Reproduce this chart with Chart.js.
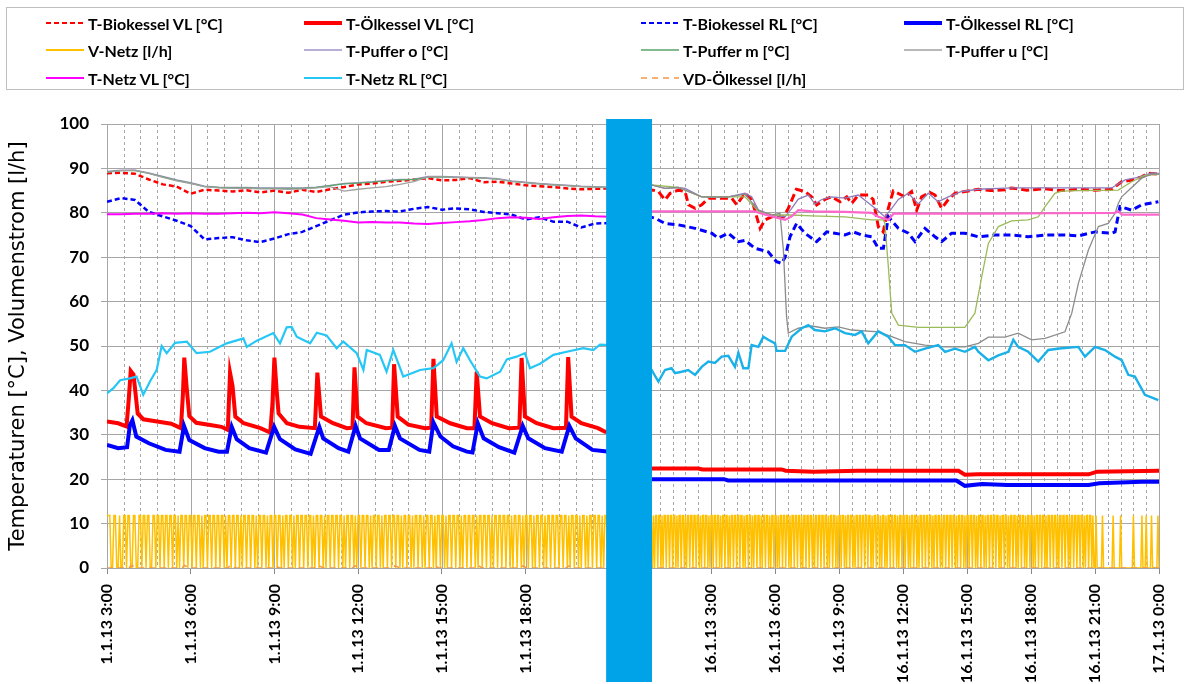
<!DOCTYPE html>
<html>
<head>
<meta charset="utf-8">
<script src="https://cdn.jsdelivr.net/npm/chart.js@4.4.1/dist/chart.umd.min.js"></script>
<style>
body{margin:0;background:#fff;}
#wrap{position:relative;width:1190px;height:684px;overflow:hidden;}
#chart{position:absolute;left:0;top:0;}
#legend{position:absolute;left:6px;top:7px;width:1178px;height:83px;border:1px solid #bfbfbf;box-sizing:border-box;font:bold 16px Lato,sans-serif;color:#000;}
.item{position:absolute;display:flex;align-items:center;white-space:nowrap;height:20px;}
.item span{margin-left:4px;}
</style>
</head>
<body>
<div id="wrap">
<canvas id="chart" width="1190" height="684"></canvas>
<div id="legend"></div>
</div>
<script>
// 1.1.13: half-hourly readings, hours of the day
const hoursJan1 = [3,3.5,4,4.5,5,5.5,6,6.5,7,7.5,8,8.5,9,9.5,10,10.5,11,11.5,12,12.5,13,13.5,14,14.5,15,15.5,16,16.5,17,17.5,18,18.5,19,19.5,20,20.5,21];
const bioVL1 = [88.9,89.0,88.8,87.5,86.4,85.9,84.3,85.2,85.0,84.8,85.1,84.6,85.0,84.5,85.2,84.7,85.3,85.8,86.4,86.6,87.0,87.2,87.5,87.8,87.3,87.4,87.8,86.9,87.0,86.6,86.2,86.0,85.8,85.5,85.3,85.4,85.5];
const bioRL1 = [82.5,83.3,82.9,80.2,79.2,78.2,77.0,74.0,74.3,74.5,73.8,73.4,74.2,75.2,75.7,77.0,78.3,79.6,80.1,80.3,80.4,80.3,80.9,81.3,80.7,81.0,80.8,80.2,79.9,79.6,78.5,79.0,78.0,78.0,76.7,77.6,77.7];
const pufferO1 = [89.3,89.6,89.6,89.0,88.2,87.4,86.8,86.0,85.8,85.7,85.7,85.6,85.6,85.6,85.6,85.8,86.2,86.6,86.8,87.0,87.3,87.5,87.6,88.2,88.2,88.1,88.0,87.9,87.7,87.2,86.9,86.6,86.4,86.2,86.0,85.9,85.8];
const pufferM1 = [89.2,89.5,89.5,88.9,88.1,87.3,86.7,85.9,85.7,85.6,85.6,85.5,85.5,85.5,85.5,85.7,86.1,86.5,86.7,86.9,87.2,87.4,87.5,88.0,88.1,88.0,87.9,87.8,87.6,87.1,86.8,86.5,86.3,86.1,85.9,85.8,85.7];
const pufferU1 = [89.1,89.5,89.6,88.9,88.0,87.2,86.6,85.9,85.6,85.5,85.5,85.4,85.4,85.3,85.4,85.6,85.9,84.9,85.3,85.6,85.9,86.4,87.0,88.1,88.1,88.0,87.9,87.8,87.6,87.1,86.8,86.5,86.3,86.1,85.9,85.8,85.7];
const netzVL1 = [79.7,79.7,79.8,79.8,79.9,79.8,79.9,79.8,79.8,79.9,80.0,79.9,80.1,79.9,79.6,78.8,78.5,78.2,77.8,77.9,77.8,77.8,77.6,77.5,77.7,77.9,78.1,78.4,78.8,79.0,78.9,78.6,79.0,79.3,79.4,79.2,79.1];
// 1.1.13: [hour, value]
const oelVL1 = [[3,33],[3.4,32.6],[3.7,31.9],[3.78,38],[3.85,44.4],[3.95,43.6],[4.1,34.8],[4.3,33.5],[4.8,33],[5.3,32.5],[5.65,31.5],[5.72,39],[5.77,47.4],[5.85,41],[5.95,34.2],[6.2,32.7],[6.7,32.2],[7.1,31.8],[7.33,31.1],[7.41,44],[7.5,41],[7.6,34.1],[7.9,32.6],[8.5,31.5],[8.85,30.5],[8.93,37],[9.0,47.4],[9.08,40],[9.15,34.8],[9.45,32.6],[9.9,31.8],[10.45,31.5],[10.54,44],[10.67,34.1],[11.1,32.6],[11.6,31.5],[11.8,31.6],[11.87,45.2],[11.98,34.1],[12.3,32.6],[13.0,31.5],[13.22,31.6],[13.29,45.9],[13.42,34.1],[13.8,32.3],[14.4,31.5],[14.62,31.6],[14.7,47.1],[14.82,34.1],[15.3,32.6],[15.9,31.5],[16.17,31.5],[16.25,44.2],[16.37,34.1],[16.8,32.6],[17.4,31.5],[17.78,31.6],[17.86,47.3],[17.98,34.1],[18.4,32.6],[19.0,31.5],[19.45,31.6],[19.53,47.5],[19.65,34.1],[20.0,32.6],[20.6,31.5],[20.85,30.7],[21,30.7]];
const oelRL1 = [[3,27.7],[3.4,27.0],[3.72,27.2],[3.82,32.2],[3.91,33.3],[4.05,29.6],[4.5,28.1],[5.1,26.6],[5.6,26.2],[5.76,32],[5.95,28.8],[6.5,27],[7.0,26.2],[7.3,26.2],[7.47,31.8],[7.65,29],[8.1,27],[8.7,26.0],[8.99,31.8],[9.2,29],[9.75,26.7],[10.3,25.7],[10.61,31.8],[10.75,29.2],[11.3,27],[11.65,26.2],[11.91,32],[12.07,29.2],[12.75,26.6],[13.1,26.6],[13.32,32],[13.5,29.2],[14.2,26.6],[14.55,26.2],[14.7,32.8],[14.95,29.6],[15.4,27.4],[15.9,26.2],[16.1,26.0],[16.29,32.6],[16.5,29.2],[17.05,27.2],[17.6,26.0],[17.9,32.0],[18.1,29.2],[18.7,27.0],[19.3,26.2],[19.57,32],[19.8,29.2],[20.4,26.6],[21,26.2]];
const netzRL1 = [[3.0,39.3],[3.23,40.5],[3.47,42.3],[3.82,42.7],[4.06,43.1],[4.3,39.0],[4.54,42.0],[4.78,44.6],[4.96,50.0],[5.14,48.4],[5.44,50.7],[5.86,51.0],[6.21,48.4],[6.69,48.7],[7.29,50.6],[7.89,51.7],[8.01,49.8],[8.37,51.2],[8.96,52.9],[9.2,50.6],[9.44,54.2],[9.62,54.3],[9.8,52.1],[10.28,50.6],[10.52,53.0],[10.87,52.4],[11.23,49.5],[11.47,51.0],[11.95,48.4],[12.19,44.6],[12.31,49.1],[12.78,48.0],[13.02,44.2],[13.26,49.1],[13.62,43.1],[14.22,44.6],[14.7,45.0],[15.05,46.8],[15.35,50.6],[15.53,46.4],[15.77,49.5],[16.01,46.8],[16.37,43.1],[16.61,42.7],[17.09,44.2],[17.33,47.0],[17.68,47.6],[17.98,48.4],[18.16,45.0],[18.52,46.0],[19.0,48.0],[19.48,48.7],[20.07,49.5],[20.43,49.1],[20.67,50.3],[21.03,50.2]];
const vdOel1 = [[3,0],[3.78,0],[3.88,0.6],[4.05,0],[5.68,0],[5.78,0.6],[5.95,0],[7.33,0],[7.43,0.6],[7.6,0],[8.92,0],[9.02,0.5],[9.2,0],[10.48,0],[10.58,0.6],[10.75,0],[11.8,0],[11.9,0.5],[12.05,0],[13.22,0],[13.32,0.5],[13.5,0],[14.62,0],[14.72,0.5],[14.9,0],[16.18,0],[16.28,0.6],[16.45,0],[17.8,0],[17.9,0.5],[18.05,0],[19.46,0],[19.56,0.5],[19.72,0],[21,0]];
// V-Netz on/off every 3 minutes (1 = flow, 0 = off), from 3:00
const vNetzOn = 11.8;
const vNetz1 =
  '11100110010011011001' + '10011011011001101101' + '10110110110101101101' + '10110110101101101101' +
  '10110101101101101011' + '01101101011011010110' + '11011010110110101101' + '10110110101101101011' +
  '01101101101011011010' + '11011011010110110101' + '10110110110101101101' + '01101101011011010110' +
  '11010110110110101101' + '10110101101101101011' + '01101101101011011010' + '11011010110110101101' +
  '10110110110101101101' + '01101011011011010110' + '1';

// 16.1.13: [hour, value]
const bioVL16 = [[0,85.3],[0.27,85.1],[0.53,84.8],[0.84,82.9],[1.08,84.4],[1.47,85.1],[1.78,84.8],[1.94,81.8],[2.25,81.0],[2.56,81.8],[2.88,83.3],[3.97,83.3],[4.2,81.8],[4.59,84.4],[4.91,83.0],[5.14,79.1],[5.3,76.5],[5.53,78.4],[5.84,79.1],[6.39,79.0],[6.62,81.0],[7.0,85.3],[7.4,84.8],[7.71,83.6],[7.95,81.8],[8.34,83.0],[8.65,83.6],[9.05,82.5],[9.36,83.6],[9.59,82.1],[9.9,84.0],[10.37,84.0],[10.6,83.0],[10.84,76.9],[11.07,75.7],[11.31,81.0],[11.54,84.9],[12.09,83.6],[12.4,84.8],[12.64,80.6],[12.87,83.6],[13.26,84.6],[13.5,84.0],[13.81,81.0],[14.12,83.0],[14.44,84.4],[14.91,84.8],[15.53,85.3],[16.1,85.0],[16.78,85.2],[17.09,85.6],[17.8,85.1],[18.66,85.4],[19.4,85.0],[20.22,85.3],[21.0,85.1],[21.78,85.3],[22.25,87.0],[22.72,87.4],[23.19,88.1],[23.5,88.9],[24,88.7]];
const oelVL16 = [[0,22.4],[2.4,22.4],[2.6,22.2],[6.3,22.2],[6.5,21.9],[7.8,21.7],[9.9,21.9],[14.6,21.9],[14.9,21.0],[15.5,21.1],[20.7,21.1],[21.1,21.7],[24,21.9]];
const bioRL16 = [[0,79.2],[0.37,78.8],[0.84,77.6],[1.46,77.3],[2.25,76.5],[3.03,75.4],[3.34,74.3],[3.81,75.4],[4.28,73.5],[4.59,73.8],[5.06,72.0],[5.68,71.2],[6.07,69.0],[6.31,68.6],[6.47,70.0],[6.7,74.6],[7.01,77.6],[7.4,75.4],[7.95,73.5],[8.42,75.7],[8.81,75.4],[9.28,75.0],[9.67,75.7],[10.06,75.0],[10.53,74.6],[10.84,72.0],[11.08,72.0],[11.31,79.1],[11.78,76.5],[12.25,75.4],[12.56,73.5],[13.03,76.5],[13.5,74.6],[13.81,73.5],[14.28,75.4],[14.9,75.4],[15.53,74.6],[16.31,75.0],[17.09,75.0],[17.87,74.6],[18.66,75.0],[19.59,75.0],[20.22,74.8],[21.0,75.7],[21.78,75.4],[21.94,75.7],[22.17,81.4],[22.72,80.6],[23.19,81.8],[23.97,82.5]];
const oelRL16 = [[0,20.0],[3.6,20.0],[3.8,19.7],[14.5,19.7],[14.9,18.5],[15.7,18.9],[16.9,18.7],[20.7,18.7],[21.2,19.1],[23.2,19.4],[24,19.4]];
const pufferO16 = [[0,86.4],[0.2,86.3],[0.84,85.5],[1.46,85.7],[1.78,85.5],[2.56,83.6],[3.03,83.5],[3.81,83.6],[4.59,84.4],[4.9,83.6],[5.22,80.6],[5.84,79.5],[6.47,79.1],[6.78,81.0],[7.09,83.1],[7.56,84.0],[7.87,82.0],[8.19,83.0],[8.65,83.6],[9.28,83.3],[9.9,84.0],[10.69,81.0],[11.15,79.1],[11.47,81.0],[11.78,83.0],[12.25,84.4],[12.72,82.0],[13.18,84.4],[13.65,82.5],[14.12,83.6],[14.75,84.8],[15.53,85.3],[17.09,85.6],[21.78,85.6],[22.41,87.4],[23.03,88.0],[23.66,89.0],[24,88.9]];
const pufferM16 = [[0,86.4],[0.2,86.3],[1.46,85.7],[2.56,83.6],[4.59,83.6],[5.22,80.3],[6.0,79.5],[6.78,79.5],[7.72,79.3],[9.28,79.1],[10.53,78.4],[11.08,78.4],[11.15,77.6],[11.31,67.9],[11.47,57.4],[11.78,54.7],[12.72,54.2],[14.9,54.2],[15.37,57.4],[15.69,65.6],[16.0,73.1],[16.47,76.9],[17.09,78.2],[17.87,78.4],[18.34,79.1],[18.66,81.4],[19.12,84.4],[19.44,84.9],[20.22,85.0],[22.09,85.1],[22.72,87.0],[23.34,88.4],[24,88.7]];
const pufferU16 = [[0,86.4],[0.2,86.3],[0.84,85.5],[1.46,85.7],[2.56,83.6],[3.81,83.6],[4.59,84.2],[5.22,80.6],[5.84,79.5],[6.23,79.9],[6.39,71.6],[6.54,56.6],[6.62,52.9],[7.09,54.0],[7.72,54.5],[8.34,54.0],[8.97,54.3],[9.59,53.6],[10.84,53.2],[11.47,52.1],[12.09,51.0],[13.03,50.2],[13.97,49.8],[14.9,49.8],[15.53,50.6],[16.0,52.0],[16.78,52.0],[17.4,52.9],[18.03,51.4],[18.66,51.7],[19.59,53.2],[19.91,57.4],[20.22,64.1],[20.69,71.6],[21.16,76.9],[21.62,77.6],[21.94,79.9],[22.09,82.1],[22.25,83.6],[22.72,85.7],[23.19,87.8],[23.66,88.7],[24,88.7]];
const netzVL16 = [[0,80.3],[5.06,80.3],[5.22,80.0],[5.84,79.2],[6.47,78.4],[6.78,79.2],[7.09,80.6],[7.72,80.3],[9.28,80.2],[10.53,80.0],[10.84,79.1],[11.31,78.4],[11.55,79.8],[16.0,79.8],[19.0,79.9],[21.94,80.0],[22.09,80.4],[22.25,79.6],[24,79.6]];
const netzRL16 = [[0,44.0],[0.21,44.6],[0.53,42.0],[0.84,44.6],[1.15,45.0],[1.31,43.9],[1.62,44.2],[1.93,44.6],[2.25,43.5],[2.56,45.3],[2.87,46.5],[3.18,46.2],[3.5,47.6],[3.81,47.8],[4.12,45.3],[4.28,48.5],[4.51,45.0],[4.75,45.0],[4.9,50.2],[5.22,49.8],[5.45,52.1],[5.68,51.4],[6.0,50.6],[6.07,48.9],[6.47,48.9],[6.78,52.1],[7.25,54.0],[7.56,54.7],[7.87,53.6],[8.34,53.3],[8.81,54.0],[9.28,52.9],[9.75,52.5],[10.06,53.3],[10.37,50.6],[10.84,53.3],[11.31,52.1],[11.62,50.2],[12.09,50.2],[12.56,48.7],[13.03,49.4],[13.65,50.2],[13.97,48.7],[14.44,49.4],[14.9,48.7],[15.37,49.8],[15.53,48.7],[16.0,46.8],[16.47,47.9],[16.94,48.7],[17.17,51.4],[17.4,49.8],[17.87,48.7],[18.34,46.5],[18.81,49.1],[19.44,49.5],[20.22,49.8],[20.53,47.6],[21.0,49.8],[21.47,49.1],[21.94,47.6],[22.25,46.8],[22.56,43.5],[22.87,43.1],[23.34,39.0],[23.97,37.8]];
const vdOel16 = [[0,0],[24,0]];
// V-Netz on/off every 3 minutes, from 0:00
const vNetz16 =
  '11011010110110101101' + '10110110101101101011' + '01101101101011011010' + '11011011010110110101' +
  '10110110110101101101' + '01101101011011010110' + '11010110110110101101' + '10110101101101101011' +
  '01101101101011011010' + '11011010110110101101' + '10110110110101101101' + '01101011011011010110' +
  '11011010110110101101' + '10110110101101101011' + '01101101101011011010' + '11011011010110110101' +
  '10110110110101101101' + '01101101011011010110' + '11010110110110101101' + '10110101101101101011' +
  '01101101101011011010' + '01000001000000000100' + '00001000000000001000' + '00001000100001000001' + '0';

// x tick labels (hour of day)
const ticksJan1 = [3,6,9,12,15,18];
const ticksJan16 = [3,6,9,12,15,18,21,24];

const pts = (hours, values) => hours.map((h, i) => ({x: h, y: values[i]}));
const pairs = list => list.map(([x, y]) => ({x, y}));
const pulses = (start, pattern) => [...pattern].map((c, i) => ({x: start + i * 0.05, y: c === '1' ? vNetzOn : 0}));

const series = [
  {label:'T-Biokessel VL [°C]', d1:pts(hoursJan1,bioVL1), d16:pairs(bioVL16), color:['#ff0000','#ff0000'], width:[2.5,3], dash:[[5,3],[8,4]], lw:2},
  {label:'T-Ölkessel VL [°C]', d1:pairs(oelVL1), d16:pairs(oelVL16), color:['#ff0000','#ff0000'], width:[4,4], dash:[[],[]], lw:4},
  {label:'T-Biokessel RL [°C]', d1:pts(hoursJan1,bioRL1), d16:pairs(bioRL16), color:['#0000ff','#0000ff'], width:[2.5,3], dash:[[5,3],[7,4]], lw:2},
  {label:'T-Ölkessel RL [°C]', d1:pairs(oelRL1), d16:pairs(oelRL16), color:['#0000ff','#0000ff'], width:[4,4], dash:[[],[]], lw:4},
  {label:'V-Netz [l/h]', d1:pulses(3,vNetz1), d16:pulses(0,vNetz16), color:['#ffc000','#ffc000'], width:[1.5,1.5], dash:[[],[]], lw:2},
  {label:'T-Puffer o [°C]', d1:pts(hoursJan1,pufferO1), d16:pairs(pufferO16), color:['#a493c9','#8e7bbd'], width:[1.3,1.3], dash:[[],[]], lw:1.5},
  {label:'T-Puffer m [°C]', d1:pts(hoursJan1,pufferM1), d16:pairs(pufferM16), color:['#5aa469','#9bbb59'], width:[1.3,1.3], dash:[[],[]], lw:1.5},
  {label:'T-Puffer u [°C]', d1:pts(hoursJan1,pufferU1), d16:pairs(pufferU16), color:['#a0a0a0','#8c8c8c'], width:[1.3,1.3], dash:[[],[]], lw:1.5},
  {label:'T-Netz VL [°C]', d1:pts(hoursJan1,netzVL1), d16:pairs(netzVL16), color:['#ff00ff','#ff66cc'], width:[2,2.2], dash:[[],[]], lw:2},
  {label:'T-Netz RL [°C]', d1:pairs(netzRL1), d16:pairs(netzRL16), color:['#26c6f5','#1ab0e8'], width:[2.2,2.4], dash:[[],[]], lw:2},
  {label:'VD-Ölkessel [l/h]', d1:pairs(vdOel1), d16:pairs(vdOel16), color:['#f79646','#f79646'], width:[1.5,1.5], dash:[[6,5],[6,5]], lw:1.5}
];

const datasets = [];
series.forEach((s, i) => {
  [['x', s.d1, 0], ['x2', s.d16, 1]].forEach(([axis, data, k]) => {
    datasets.push({label:s.label, data, xAxisID:axis, borderColor:s.color[k], borderWidth:s.width[k],
      borderDash:s.dash[k], pointRadius:0, tension:0, fill:false, order:100 - i});
  });
});

// vertical grid: solid every 3 h, dashed every 36 min, separate per time window
const segmentGrid = {
  id:'segmentGrid',
  beforeDatasetsDraw(chart){
    const {ctx, chartArea:a, scales} = chart;
    ctx.save();
    ctx.lineWidth = 1;
    ctx.strokeStyle = '#a6a6a6';
    const line = (scale, h, major) => {
      const px = Math.round(scale.getPixelForValue(h)) + 0.5;
      ctx.setLineDash(major ? [] : [3,3]);
      ctx.beginPath(); ctx.moveTo(px, a.top); ctx.lineTo(px, a.bottom); ctx.stroke();
    };
    for (let k = 0; k <= 30; k++) line(scales.x, 3 + k * 0.6, k % 5 === 0);
    for (let k = 0; k <= 39; k++) line(scales.x2, 24 - k * 0.6, k % 5 === 0);
    ctx.restore();
  }
};

// blue bar over the gap between the two time windows
const breakFrom = 20.89, breakTo = 0.23;
const breakBar = {
  id:'breakBar',
  afterDraw(chart){
    const {ctx, chartArea:a, scales} = chart;
    const x0 = scales.x.getPixelForValue(breakFrom);
    const x1 = scales.x2.getPixelForValue(breakTo);
    ctx.save();
    ctx.fillStyle = '#00a2e8';
    ctx.fillRect(x0, a.top - 5, x1 - x0, chart.height - 2 - (a.top - 5));
    ctx.restore();
  }
};

const tickFont = {family:'Lato, sans-serif', size:16, weight:'bold'};
const timeAxis = (min, max, ticks, label) => ({
  type:'linear', axis:'x', position:{y:0}, min, max,
  afterBuildTicks:s => { s.ticks = ticks.map(v => ({value:v})); },
  ticks:{autoSkip:false, minRotation:90, maxRotation:90, color:'#000', font:tickFont, padding:10, callback:label},
  grid:{drawOnChartArea:false, tickLength:6, color:'#888'}, border:{display:false}
});

new Chart(document.getElementById('chart').getContext('2d'), {
  type:'line',
  data:{datasets},
  options:{
    responsive:false, animation:false, parsing:false,
    layout:{padding:{top:124, right:31, left:0, bottom:116}},
    plugins:{legend:{display:false}, tooltip:{enabled:false}},
    scales:{
      x:timeAxis(3, 40.706, ticksJan1, v => '1.1.13 ' + v + ':00'),
      x2:timeAxis(-25.32, 24, ticksJan16, v => v === 24 ? '17.1.13 0:00' : '16.1.13 ' + v + ':00'),
      y:{min:0, max:100,
        afterFit:s => { s.width = 107; },
        ticks:{stepSize:10, color:'#000', font:{family:'Lato, sans-serif', size:17, weight:'bold'}, padding:12},
        grid:{color:'#a6a6a6', tickLength:6}, border:{color:'#a6a6a6'},
        title:{display:true, text:'Temperaturen [°C], Volumenstrom [l/h]', color:'#000',
          font:{family:'DejaVu Sans, sans-serif', size:21}, padding:{top:6, bottom:0}}}
    }
  },
  plugins:[segmentGrid, breakBar]
});

// legend laid out in four columns like the original
const legendCols = [39, 297, 634, 897];
const legendRows = [5, 32, 60];
document.getElementById('legend').innerHTML = series.map((s, i) => `
  <div class="item" style="left:${legendCols[i % 4]}px;top:${legendRows[Math.floor(i / 4)]}px">
    <svg width="38" height="8"><line x1="0" y1="4" x2="38" y2="4" stroke="${s.color[0]}" stroke-width="${s.lw}" stroke-dasharray="${s.dash[0].join(' ')}"/></svg>
    <span>${s.label}</span>
  </div>`).join('');
</script>
</body>
</html>
